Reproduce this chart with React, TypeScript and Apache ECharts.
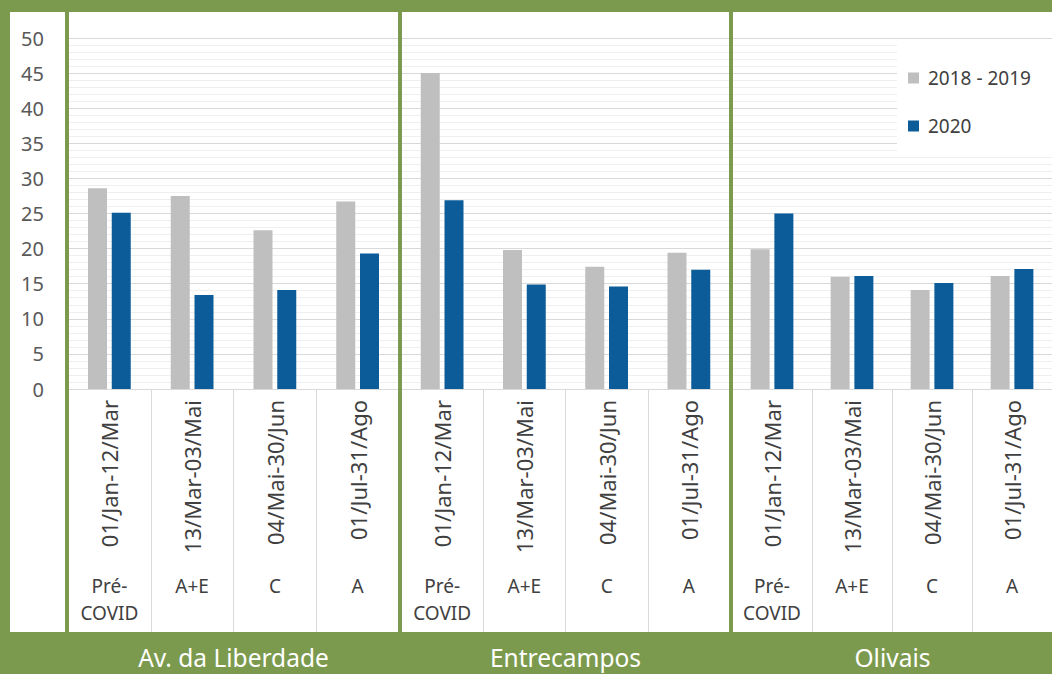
import React, { useEffect, useRef } from "react";
import * as echarts from "echarts";

const stations = ["Av. da Liberdade", "Entrecampos", "Olivais"];
const periods = ["01/Jan-12/Mar", "13/Mar-03/Mai", "04/Mai-30/Jun", "01/Jul-31/Ago"];
const phases = ["Pré-\nCOVID", "A+E", "C", "A"];
const seriesNames = ["2018 - 2019", "2020"];
const liberdade2018_2019 = [28.6, 27.5, 22.6, 26.7];
const liberdade2020 = [25.1, 13.4, 14.1, 19.3];
const entrecampos2018_2019 = [45.0, 19.8, 17.4, 19.4];
const entrecampos2020 = [26.9, 14.9, 14.6, 17.0];
const olivais2018_2019 = [19.9, 16.0, 14.1, 16.1];
const olivais2020 = [25.0, 16.1, 15.1, 17.1];
const yTicks = { min: 0, max: 50, interval: 5 };

const W = 1052;
const H = 674;
const GREEN = "#7c9a4d";
const GRID_TOP = 38;
const GRID_H = 351;
const BAND_TOP = 632;
const PANELS = [
  { left: 68, width: 331 },
  { left: 401, width: 329 },
  { left: 732, width: 330 },
];

export default function App() {
  const ref = useRef<HTMLDivElement>(null);
  useEffect(() => {
    if (!ref.current) return;
    const chart = echarts.init(ref.current, undefined, { renderer: "svg" });
    const panelData = [
      [liberdade2018_2019, liberdade2020],
      [entrecampos2018_2019, entrecampos2020],
      [olivais2018_2019, olivais2020],
    ];
    const colors = ["#bfbfbf", "#0b5c99"];

    const visibleCenters = [
      (69 + 398) / 2,
      (402 + 729) / 2,
      (733 + W) / 2,
    ];

    const graphics: any[] = [
      { type: "rect", shape: { x: 0, y: 0, width: W, height: 12 }, style: { fill: GREEN }, z: 100 },
      { type: "rect", shape: { x: 0, y: 0, width: 10, height: H }, style: { fill: GREEN }, z: 100 },
      { type: "rect", shape: { x: 65, y: 0, width: 4, height: H }, style: { fill: GREEN }, z: 100 },
      { type: "rect", shape: { x: 398, y: 0, width: 4, height: H }, style: { fill: GREEN }, z: 100 },
      { type: "rect", shape: { x: 729, y: 0, width: 4, height: H }, style: { fill: GREEN }, z: 100 },
      { type: "rect", shape: { x: 0, y: BAND_TOP, width: W, height: H - BAND_TOP }, style: { fill: GREEN }, z: 100 },
      ...stations.map((s, i) => ({
        type: "text",
        x: visibleCenters[i],
        y: 657,
        z: 101,
        style: {
          text: s,
          fill: "#ffffff",
          font: '24.5px "Noto Sans"',
          align: "center",
          verticalAlign: "middle",
        },
      })),
    ];

    const grids = PANELS.map((p) => ({
      left: p.left,
      top: GRID_TOP,
      width: p.width,
      height: GRID_H,
      containLabel: false,
    }));

    const xAxes: any[] = [];
    PANELS.forEach((_, i) => {
      xAxes.push({
        type: "category",
        gridIndex: i,
        data: periods,
        position: "bottom",
        axisLine: { show: true, lineStyle: { color: "#d9d9d9", width: 1 } },
        axisTick: {
          show: true,
          length: BAND_TOP - (GRID_TOP + GRID_H),
          interval: 0,
          alignWithLabel: false,
          lineStyle: { color: "#d9d9d9" },
        },
        axisLabel: { interval: 0, rotate: 90, margin: 11, fontSize: 22, color: "#404040" },
        splitLine: { show: false },
      });
      xAxes.push({
        type: "category",
        gridIndex: i,
        data: phases,
        position: "bottom",
        offset: 175,
        axisLine: { show: false },
        axisTick: { show: false },
        axisLabel: { interval: 0, margin: 8, fontSize: 19, lineHeight: 27, color: "#404040", align: "center" },
        splitLine: { show: false },
      });
    });

    const yAxes = PANELS.map((_, i) => ({
      type: "value",
      gridIndex: i,
      min: yTicks.min,
      max: yTicks.max,
      interval: yTicks.interval,
      axisLine: { show: false },
      axisTick: { show: false },
      axisLabel: { show: i === 0, fontSize: 20, color: "#595959", margin: 24 },
      splitLine: { show: true, lineStyle: { color: "#d9d9d9", width: 1 } },
      minorTick: { show: false, splitNumber: 5 },
      minorSplitLine: { show: true, lineStyle: { color: "#efefef", width: 1 } },
    }));

    const series: any[] = [];
    panelData.forEach((pair, i) => {
      pair.forEach((vals, k) => {
        series.push({
          name: seriesNames[k],
          type: "bar",
          xAxisIndex: i * 2,
          yAxisIndex: i,
          data: vals,
          barWidth: 19,
          barGap: "25%",
          itemStyle: { color: colors[k] },
        });
      });
    });

    chart.setOption({
      animation: false,
      backgroundColor: "#ffffff",
      textStyle: { fontFamily: "Noto Sans" },
      grid: grids,
      legend: {
        orient: "vertical",
        left: 897,
        top: 42,
        backgroundColor: "#ffffff",
        padding: [26, 40, 20, 11],
        itemGap: 28,
        itemWidth: 11,
        itemHeight: 11,
        icon: "rect",
        textStyle: { fontSize: 19, color: "#404040", lineHeight: 20, padding: [0, 0, 0, 4] },
        data: seriesNames,
      },
      xAxis: xAxes,
      yAxis: yAxes,
      series,
      graphic: graphics,
    });
    return () => chart.dispose();
  }, []);
  return (
    <div
      ref={ref}
      style={{ position: "absolute", left: 0, top: 0, width: W, height: H }}
    />
  );
}
